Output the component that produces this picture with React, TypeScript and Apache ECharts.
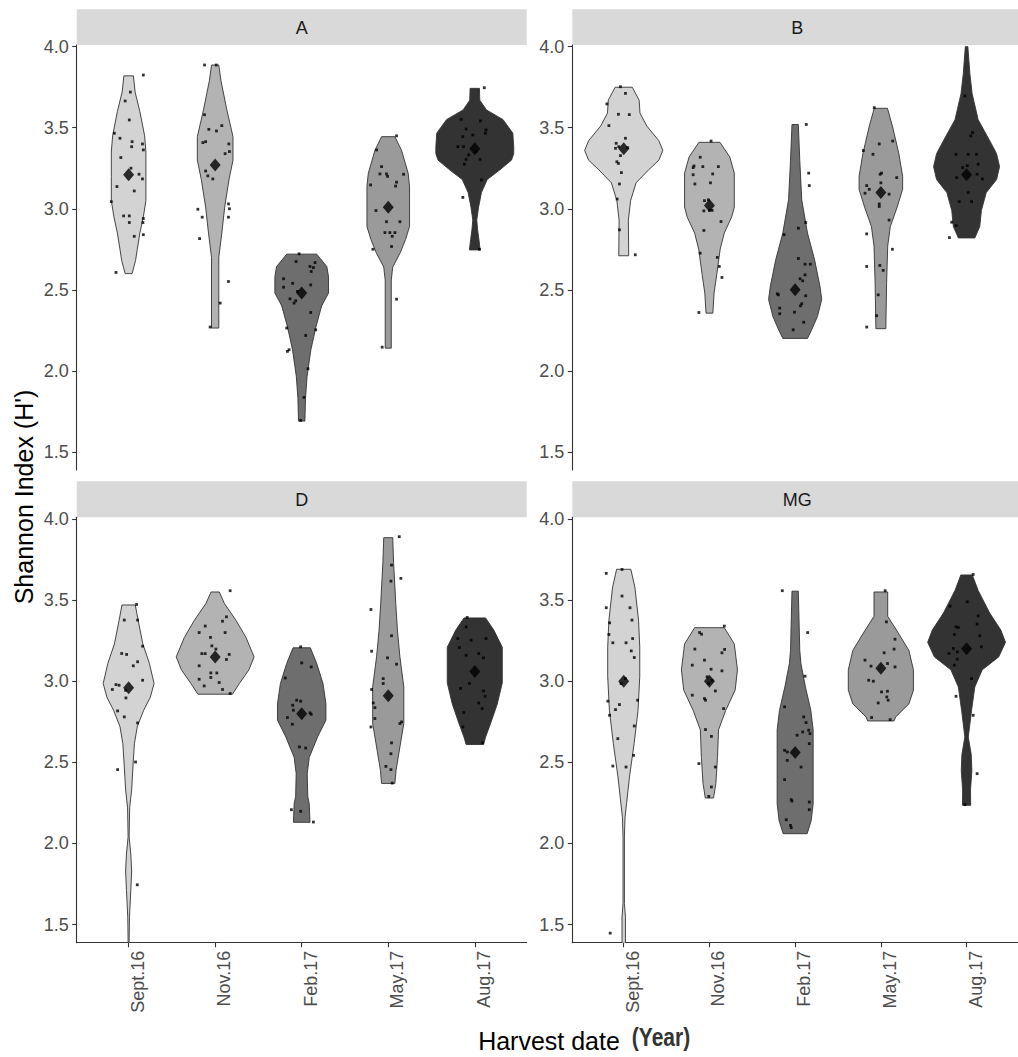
import React, { useEffect, useRef } from "react";
import * as echarts from "echarts";

const categories = ["Sept.16", "Nov.16", "Feb.17", "May.17", "Aug.17"];
const panelNames = ["A", "B", "D", "MG"];
const yTicks = [1.5, 2.0, 2.5, 3.0, 3.5, 4.0];
const xTicks = [0, 1, 2, 3, 4];
const fills = ["#D3D3D3", "#B3B3B3", "#6E6E6E", "#9A9A9A", "#333333"];

// mean values (diamonds)
const meansA = [3.21, 3.27, 2.48, 3.01, 3.37];
const meansB = [3.37, 3.02, 2.5, 3.1, 3.21];
const meansD = [2.96, 3.15, 2.8, 2.91, 3.06];
const meansMG = [3.0, 3.0, 2.56, 3.08, 3.2];

// violin outlines: [value, half width as fraction of one category step]
const violinA = [
  [[3.82, 0.055], [3.72, 0.075], [3.6, 0.13], [3.45, 0.185], [3.35, 0.2], [3.2, 0.2], [3.05, 0.2], [2.95, 0.17], [2.85, 0.13], [2.75, 0.1], [2.68, 0.08], [2.6, 0.04]],
  [[3.887, 0.042], [3.79, 0.067], [3.61, 0.135], [3.445, 0.206], [3.3, 0.206], [3.18, 0.16], [3.01, 0.11], [2.85, 0.077], [2.7, 0.042], [2.264, 0.042]],
  [[2.72, 0.173], [2.644, 0.29], [2.58, 0.31], [2.48, 0.31], [2.4, 0.23], [2.27, 0.164], [2.13, 0.106], [1.965, 0.062], [1.83, 0.044], [1.69, 0.037]],
  [[3.445, 0.077], [3.36, 0.154], [3.22, 0.23], [3.14, 0.246], [2.89, 0.246], [2.81, 0.2], [2.73, 0.14], [2.64, 0.052], [2.56, 0.035], [2.14, 0.035]],
  [[3.743, 0.054], [3.67, 0.058], [3.61, 0.135], [3.55, 0.327], [3.466, 0.44], [3.38, 0.45], [3.34, 0.45], [3.3, 0.424], [3.24, 0.29], [3.18, 0.144], [3.1, 0.077], [3.01, 0.044], [2.93, 0.023], [2.87, 0.033], [2.81, 0.048], [2.746, 0.062]],
];
const violinB = [
  [[3.75, 0.1], [3.67, 0.18], [3.59, 0.19], [3.51, 0.27], [3.42, 0.41], [3.36, 0.456], [3.3, 0.41], [3.24, 0.29], [3.16, 0.144], [3.05, 0.08], [2.93, 0.054], [2.71, 0.058]],
  [[3.41, 0.123], [3.32, 0.237], [3.22, 0.29], [3.01, 0.29], [2.95, 0.26], [2.85, 0.173], [2.75, 0.125], [2.6, 0.087], [2.48, 0.054], [2.356, 0.04]],
  [[3.52, 0.037], [3.3, 0.054], [3.055, 0.077], [2.85, 0.144], [2.685, 0.227], [2.52, 0.29], [2.44, 0.31], [2.335, 0.26], [2.25, 0.19], [2.2, 0.144]],
  [[3.62, 0.077], [3.51, 0.135], [3.34, 0.21], [3.2, 0.254], [3.12, 0.254], [3.01, 0.19], [2.89, 0.11], [2.77, 0.08], [2.54, 0.067], [2.26, 0.058]],
  [[4.0, 0.015], [3.835, 0.038], [3.71, 0.065], [3.55, 0.135], [3.42, 0.27], [3.34, 0.35], [3.26, 0.385], [3.18, 0.35], [3.1, 0.23], [2.99, 0.173], [2.89, 0.154], [2.82, 0.096]],
];
const violinD = [
  [[3.47, 0.077], [3.376, 0.11], [3.23, 0.164], [3.11, 0.24], [2.986, 0.294], [2.9, 0.25], [2.82, 0.173], [2.72, 0.1], [2.615, 0.067], [2.49, 0.052], [2.33, 0.035], [2.22, 0.012], [2.04, 0.006], [1.935, 0.025], [1.83, 0.035], [1.71, 0.025], [1.545, 0.01], [1.3, 0.003]],
  [[3.55, 0.048], [3.48, 0.106], [3.376, 0.24], [3.27, 0.356], [3.15, 0.45], [3.07, 0.39], [2.986, 0.28], [2.92, 0.2]],
  [[3.206, 0.1], [3.11, 0.173], [2.986, 0.246], [2.86, 0.28], [2.76, 0.28], [2.656, 0.183], [2.53, 0.087], [2.43, 0.064], [2.29, 0.07], [2.245, 0.087], [2.13, 0.096]],
  [[3.885, 0.052], [3.73, 0.062], [3.48, 0.087], [3.315, 0.106], [3.15, 0.135], [2.965, 0.18], [2.74, 0.18], [2.595, 0.135], [2.45, 0.09], [2.37, 0.077]],
  [[3.39, 0.125], [3.315, 0.22], [3.21, 0.318], [2.99, 0.318], [2.86, 0.26], [2.74, 0.183], [2.656, 0.125], [2.61, 0.1]],
];
const violinMG = [
  [[3.69, 0.083], [3.58, 0.13], [3.376, 0.173], [3.21, 0.187], [3.03, 0.187], [2.82, 0.167], [2.615, 0.121], [2.41, 0.067], [2.245, 0.033], [2.16, 0.015], [2.04, 0.008], [1.63, 0.008], [1.545, 0.02], [1.3, 0.02]],
  [[3.33, 0.173], [3.23, 0.29], [3.07, 0.327], [2.945, 0.3], [2.82, 0.19], [2.7, 0.106], [2.53, 0.094], [2.37, 0.075], [2.28, 0.048]],
  [[3.555, 0.037], [3.19, 0.054], [3.11, 0.067], [2.965, 0.12], [2.82, 0.183], [2.7, 0.21], [2.245, 0.21], [2.14, 0.187], [2.06, 0.14]],
  [[3.55, 0.08], [3.4, 0.08], [3.315, 0.183], [3.19, 0.327], [3.07, 0.38], [2.945, 0.38], [2.86, 0.327], [2.78, 0.173], [2.755, 0.154]],
  [[3.655, 0.067], [3.56, 0.135], [3.42, 0.27], [3.315, 0.4], [3.24, 0.454], [3.15, 0.375], [3.07, 0.183], [2.965, 0.096], [2.82, 0.058], [2.656, 0.02], [2.55, 0.054], [2.45, 0.062], [2.33, 0.046], [2.235, 0.048]],
];

// jittered observations: [horizontal jitter offset, value]
const pointsA = [
  [[0.17, 3.825], [0.02, 3.72], [-0.04, 3.665], [0.008, 3.548], [-0.1, 3.435], [-0.165, 3.466], [0.04, 3.414], [0.035, 3.383], [0.16, 3.4], [0.17, 3.363], [-0.09, 3.316], [0.027, 3.25], [0.12, 3.213], [0.16, 3.184], [-0.135, 3.137], [0.065, 3.11], [-0.2, 3.044], [-0.058, 2.956], [0.008, 2.956], [0.008, 2.915], [0.17, 2.94], [0.165, 2.915], [0.065, 2.83], [0.17, 2.84], [-0.146, 2.607]],
  [[-0.123, 3.887], [0.012, 3.887], [-0.123, 3.58], [-0.073, 3.49], [0.015, 3.48], [0.077, 3.513], [-0.142, 3.408], [-0.11, 3.414], [0.158, 3.4], [0.165, 3.353], [0.115, 3.34], [-0.11, 3.233], [-0.085, 3.203], [-0.027, 3.184], [0.154, 3.03], [0.165, 3.0], [-0.2, 2.997], [-0.15, 2.948], [0.154, 2.948], [-0.18, 2.816], [0.154, 2.551], [0.058, 2.418], [-0.058, 2.27]],
  [[-0.03, 2.722], [-0.065, 2.674], [0.154, 2.668], [0.096, 2.644], [0.135, 2.637], [0.11, 2.613], [-0.21, 2.568], [-0.104, 2.54], [-0.21, 2.516], [0.104, 2.53], [-0.05, 2.49], [-0.135, 2.444], [-0.088, 2.418], [-0.069, 2.432], [0.104, 2.36], [-0.173, 2.264], [0.162, 2.253], [0.046, 2.218], [-0.165, 2.12], [-0.146, 2.13], [0.073, 2.013], [0.027, 1.836], [-0.012, 1.694]],
  [[0.096, 3.45], [-0.135, 3.363], [-0.077, 3.26], [-0.096, 3.215], [-0.02, 3.215], [0.177, 3.213], [-0.008, 3.2], [-0.204, 3.147], [0.085, 3.14], [0.096, 3.164], [-0.142, 2.989], [0.135, 2.92], [-0.02, 2.92], [-0.038, 2.853], [0.019, 2.853], [0.077, 2.853], [0.046, 2.83], [-0.177, 2.75], [0.038, 2.767], [0.096, 2.442], [-0.07, 2.146]],
  [[0.11, 3.747], [-0.158, 3.552], [0.065, 3.542], [-0.1, 3.492], [0.13, 3.486], [0.123, 3.466], [-0.138, 3.445], [-0.023, 3.455], [-0.196, 3.383], [-0.13, 3.383], [-0.07, 3.332], [-0.1, 3.305], [-0.12, 3.275], [0.062, 3.305], [0.015, 3.353], [0.077, 3.178], [-0.138, 3.07], [0.054, 2.75]],
];
const pointsB = [
  [[-0.038, 3.753], [0.02, 3.712], [-0.196, 3.647], [-0.173, 3.513], [-0.062, 3.583], [0.065, 3.581], [0.02, 3.435], [-0.088, 3.404], [-0.096, 3.373], [-0.058, 3.383], [0.046, 3.377], [-0.038, 3.328], [-0.08, 3.29], [-0.062, 3.28], [-0.027, 3.223], [-0.05, 3.153], [-0.077, 3.06], [-0.05, 2.87], [0.135, 2.716]],
  [[0.019, 3.418], [-0.108, 3.318], [-0.18, 3.264], [-0.19, 3.254], [-0.077, 3.26], [0.104, 3.26], [0.038, 3.215], [-0.19, 3.21], [-0.17, 3.153], [0.012, 3.16], [-0.058, 3.05], [-0.012, 3.055], [-0.065, 2.987], [0.0, 2.99], [0.031, 2.99], [0.135, 2.921], [-0.065, 2.866], [-0.108, 2.726], [0.092, 2.7], [0.115, 2.644], [0.146, 2.576], [-0.123, 2.36]],
  [[0.13, 3.52], [0.158, 3.22], [0.165, 3.143], [0.123, 2.915], [0.038, 2.88], [-0.13, 2.84], [0.038, 2.693], [0.115, 2.658], [0.177, 2.658], [0.058, 2.568], [0.088, 2.555], [0.115, 2.592], [-0.208, 2.475], [-0.196, 2.469], [0.123, 2.463], [0.077, 2.414], [0.062, 2.401], [-0.18, 2.387], [-0.18, 2.352], [-0.008, 2.362], [0.1, 2.3], [-0.023, 2.253]],
  [[-0.077, 3.624], [-0.204, 3.359], [-0.019, 3.4], [0.138, 3.418], [-0.092, 3.336], [-0.008, 3.213], [0.008, 3.22], [0.185, 3.192], [-0.165, 3.143], [-0.135, 3.12], [0.0, 3.16], [-0.185, 3.096], [0.096, 3.09], [-0.019, 3.03], [-0.019, 3.014], [0.096, 2.93], [-0.165, 2.845], [0.135, 2.75], [-0.165, 2.644], [-0.012, 2.65], [0.027, 2.62], [-0.031, 2.469], [-0.05, 2.34], [-0.165, 2.27]],
  [[-0.02, 3.696], [0.07, 3.47], [0.05, 3.45], [-0.123, 3.336], [0.019, 3.336], [0.115, 3.336], [0.135, 3.275], [0.008, 3.266], [-0.046, 3.254], [-0.115, 3.192], [0.123, 3.213], [0.185, 3.184], [0.019, 3.1], [-0.085, 3.044], [0.058, 3.044], [-0.173, 2.917], [-0.123, 2.896], [-0.2, 2.822]],
];
const pointsD = [
  [[0.092, 3.473], [-0.05, 3.377], [0.104, 3.377], [0.162, 3.216], [-0.08, 3.171], [-0.023, 3.165], [0.104, 3.12], [0.054, 3.095], [0.162, 3.006], [-0.146, 2.979], [-0.11, 2.975], [-0.188, 2.949], [-0.035, 2.944], [-0.031, 2.897], [-0.127, 2.817], [-0.05, 2.78], [0.104, 2.743], [0.08, 2.502], [-0.127, 2.455], [0.1, 1.745]],
  [[0.173, 3.558], [0.13, 3.397], [0.085, 3.37], [-0.115, 3.34], [-0.185, 3.3], [0.115, 3.3], [-0.054, 3.27], [-0.038, 3.218], [0.008, 3.198], [-0.154, 3.17], [-0.115, 3.17], [0.162, 3.165], [0.13, 3.134], [-0.185, 3.095], [-0.05, 3.051], [0.019, 3.051], [-0.05, 3.023], [-0.185, 3.012], [0.046, 2.992], [-0.127, 2.971], [0.085, 2.949], [0.173, 2.924]],
  [[-0.012, 3.212], [0.0, 3.113], [0.11, 3.088], [-0.19, 3.02], [-0.058, 2.883], [-0.012, 2.877], [-0.104, 2.852], [-0.096, 2.821], [0.096, 2.805], [0.11, 2.796], [-0.165, 2.776], [-0.108, 2.735], [-0.027, 2.595], [0.046, 2.588], [-0.119, 2.208], [-0.012, 2.198], [0.135, 2.132]],
  [[0.127, 3.891], [0.038, 3.716], [0.146, 3.634], [0.031, 3.617], [-0.2, 3.442], [-0.192, 3.185], [0.038, 3.28], [0.096, 3.105], [-0.008, 3.144], [-0.058, 3.016], [-0.058, 2.986], [-0.192, 2.949], [-0.173, 2.866], [-0.154, 2.837], [-0.154, 2.77], [-0.2, 2.718], [0.154, 2.749], [0.135, 2.739], [0.038, 2.62], [0.031, 2.553], [-0.027, 2.475], [0.031, 2.455], [0.046, 2.372]],
  [[-0.088, 3.393], [-0.1, 3.335], [-0.196, 3.263], [0.13, 3.263], [-0.042, 3.253], [-0.177, 3.208], [-0.1, 3.16], [0.046, 3.171], [0.1, 3.144], [-0.062, 2.986], [-0.165, 2.955], [0.1, 2.94], [0.119, 2.907], [0.046, 2.866], [0.085, 2.831], [-0.127, 2.807], [-0.138, 2.718], [0.092, 2.62]],
];
const pointsMG = [
  [[-0.02, 3.689], [-0.204, 3.665], [-0.02, 3.525], [-0.204, 3.453], [0.073, 3.453], [-0.165, 3.36], [0.096, 3.377], [-0.127, 3.237], [0.027, 3.237], [0.104, 3.263], [0.088, 3.187], [0.123, 3.146], [-0.173, 3.288], [-0.031, 2.986], [0.019, 3.016], [0.162, 2.883], [-0.185, 2.877], [-0.165, 2.79], [-0.096, 2.825], [-0.05, 2.856], [0.123, 2.724], [-0.069, 2.646], [0.115, 2.543], [-0.127, 2.477], [0.027, 2.471], [-0.158, 1.447]],
  [[-0.115, 3.3], [-0.092, 3.29], [0.173, 3.34], [-0.17, 3.198], [0.177, 3.196], [0.146, 3.175], [-0.058, 3.13], [-0.2, 3.099], [0.019, 3.074], [0.146, 3.064], [-0.027, 3.027], [0.031, 3.006], [-0.008, 2.986], [0.069, 2.94], [-0.2, 2.914], [-0.058, 2.893], [-0.046, 2.883], [0.165, 2.831], [-0.046, 2.702], [0.023, 2.66], [-0.123, 2.492], [0.069, 2.471], [0.023, 2.348], [-0.008, 2.29]],
  [[-0.15, 3.558], [0.146, 3.3], [0.115, 3.031], [-0.123, 2.842], [0.1, 2.78], [0.127, 2.745], [0.088, 2.687], [0.023, 2.667], [0.158, 2.698], [0.173, 2.677], [0.165, 2.615], [-0.123, 2.574], [-0.092, 2.564], [-0.092, 2.512], [0.069, 2.471], [-0.123, 2.393], [-0.046, 2.27], [-0.038, 2.261], [0.165, 2.255], [0.165, 2.208], [-0.104, 2.146], [-0.054, 2.111], [-0.046, 2.097]],
  [[0.05, 3.558], [0.065, 3.366], [0.165, 3.259], [0.154, 3.198], [0.038, 3.175], [-0.185, 3.13], [0.077, 3.109], [0.165, 3.088], [-0.115, 3.093], [-0.142, 3.006], [-0.088, 3.0], [0.008, 2.934], [0.077, 2.938], [0.069, 2.903], [0.085, 2.883], [-0.031, 2.866], [-0.108, 2.776], [0.108, 2.763]],
  [[0.077, 3.658], [-0.192, 3.463], [0.008, 3.49], [0.135, 3.403], [-0.123, 3.335], [-0.096, 3.331], [0.123, 3.352], [0.154, 3.28], [-0.142, 3.288], [-0.154, 3.202], [-0.108, 3.181], [-0.204, 3.171], [0.173, 3.212], [-0.108, 3.136], [-0.142, 3.099], [0.058, 3.016], [-0.123, 2.907], [0.077, 2.79], [0.123, 2.43], [-0.02, 2.239]],
];

const panelMeans = [meansA, meansB, meansD, meansMG];
const panelViolins = [violinA, violinB, violinD, violinMG];
const panelPoints = [pointsA, pointsB, pointsD, pointsMG];

const FONT = "'Liberation Sans', Arial, sans-serif";
const Y_MIN = 1.388;
const Y_MAX = 4.0105;

const gridBoxes = [
  { left: 76.7, top: 45, width: 450, height: 425 },
  { left: 572.3, top: 45, width: 450, height: 425 },
  { left: 76.7, top: 517.3, width: 450, height: 425.4 },
  { left: 572.3, top: 517.3, width: 450, height: 425.4 },
];
const stripBoxes = [
  { x: 76.7, y: 9.3, w: 450, h: 35.7 },
  { x: 572.3, y: 9.3, w: 450, h: 35.7 },
  { x: 76.7, y: 481.3, w: 450, h: 36 },
  { x: 572.3, y: 481.3, w: 450, h: 36 },
];

function buildOption() {
  const grid = gridBoxes.map((g) => ({ ...g, containLabel: false }));
  const xAxis = gridBoxes.map((_, p) => {
    const bottom = p >= 2;
    return {
      gridIndex: p,
      type: "value",
      min: -0.6,
      max: 4.6,
      show: true,
      splitLine: { show: false },
      axisLine: { show: bottom, onZero: false, lineStyle: { color: "#333333", width: 1.1 } },
      axisTick: { show: bottom, length: 4.5, customValues: xTicks, lineStyle: { color: "#333333", width: 1.1 } },
      axisLabel: {
        show: bottom,
        customValues: xTicks,
        formatter: (v: number) => categories[Math.round(v)] ?? "",
        rotate: 90,
        margin: 8,
        align: "right",
        verticalAlign: "top",
        color: "#4D4D4D",
        fontSize: 18,
        fontFamily: FONT,
      },
    };
  });
  const yAxis = gridBoxes.map((_, p) => ({
    gridIndex: p,
    type: "value",
    min: Y_MIN,
    max: Y_MAX,
    splitLine: { show: false },
    axisLine: { show: true, onZero: false, lineStyle: { color: "#333333", width: 1.1 } },
    axisTick: { show: true, length: 4.5, customValues: yTicks, lineStyle: { color: "#333333", width: 1.1 } },
    axisLabel: {
      show: true,
      customValues: yTicks,
      formatter: (v: number) => v.toFixed(1),
      margin: 8,
      color: "#4D4D4D",
      fontSize: 18,
      fontFamily: FONT,
    },
  }));

  const series: any[] = [];
  for (let p = 0; p < 4; p++) {
    const profiles = panelViolins[p];
    const means = panelMeans[p];
    series.push({
      type: "custom",
      xAxisIndex: p,
      yAxisIndex: p,
      clip: true,
      silent: true,
      z: 1,
      data: categories.map((_, i) => [i, means[i]]),
      encode: { x: 0, y: 1 },
      renderItem: (params: any, api: any) => {
        const idx = params.dataIndex;
        const prof = profiles[idx];
        const band = api.size([1, 0])[0];
        const pts: number[][] = [];
        for (let k = 0; k < prof.length; k++) {
          const c = api.coord([idx, prof[k][0]]);
          pts.push([c[0] + prof[k][1] * band, c[1]]);
        }
        for (let k = prof.length - 1; k >= 0; k--) {
          const c = api.coord([idx, prof[k][0]]);
          pts.push([c[0] - prof[k][1] * band, c[1]]);
        }
        return {
          type: "polygon",
          shape: { points: pts },
          style: { fill: fills[idx], stroke: "#333333", lineWidth: 0.9 },
        };
      },
    });
    const pointData: number[][] = [];
    panelPoints[p].forEach((list, i) => {
      list.forEach(([dx, v]) => pointData.push([i + dx, v]));
    });
    series.push({
      type: "scatter",
      xAxisIndex: p,
      yAxisIndex: p,
      silent: true,
      z: 2,
      symbol: "rect",
      symbolSize: 2.8,
      itemStyle: { color: "#000000" },
      data: pointData,
    });
    series.push({
      type: "scatter",
      xAxisIndex: p,
      yAxisIndex: p,
      silent: true,
      z: 3,
      symbol: "diamond",
      symbolSize: [11, 13],
      itemStyle: { color: "#000000" },
      data: means.map((m, i) => [i, m]),
    });
  }

  const graphic: any[] = [];
  stripBoxes.forEach((s, p) => {
    graphic.push({
      type: "rect",
      shape: { x: s.x, y: s.y, width: s.w, height: s.h },
      style: { fill: "#D9D9D9" },
      silent: true,
    });
    graphic.push({
      type: "text",
      x: s.x + s.w / 2,
      y: s.y + s.h / 2 + 1,
      style: {
        text: panelNames[p],
        fill: "#1A1A1A",
        font: `18px ${FONT}`,
        align: "center",
        verticalAlign: "middle",
      },
      silent: true,
    });
  });
  graphic.push({
    type: "text",
    x: 24,
    y: 497,
    rotation: Math.PI / 2,
    style: {
      text: "Shannon Index (H')",
      fill: "#000000",
      font: `25px ${FONT}`,
      align: "center",
      verticalAlign: "middle",
    },
    silent: true,
  });
  graphic.push({
    type: "text",
    x: 549,
    y: 1041,
    style: {
      text: "Harvest date",
      fill: "#000000",
      font: `25px ${FONT}`,
      align: "center",
      verticalAlign: "middle",
    },
    silent: true,
  });
  graphic.push({
    type: "text",
    x: 661,
    y: 1037,
    scaleX: 0.84,
    style: {
      text: "(Year)",
      fill: "#333333",
      font: `bold 25px ${FONT}`,
      align: "center",
      verticalAlign: "middle",
    },
    silent: true,
  });

  return {
    animation: false,
    backgroundColor: "#FFFFFF",
    grid,
    xAxis,
    yAxis,
    series,
    graphic,
  };
}

export default function App() {
  const ref = useRef<HTMLDivElement>(null);
  useEffect(() => {
    if (!ref.current) return;
    const chart = echarts.init(ref.current, undefined, { renderer: "svg" });
    chart.setOption(buildOption() as any);
    return () => chart.dispose();
  }, []);
  return (
    <div
      ref={ref}
      style={{ position: "absolute", left: 0, top: 0, width: 1018, height: 1057, background: "#fff" }}
    />
  );
}
